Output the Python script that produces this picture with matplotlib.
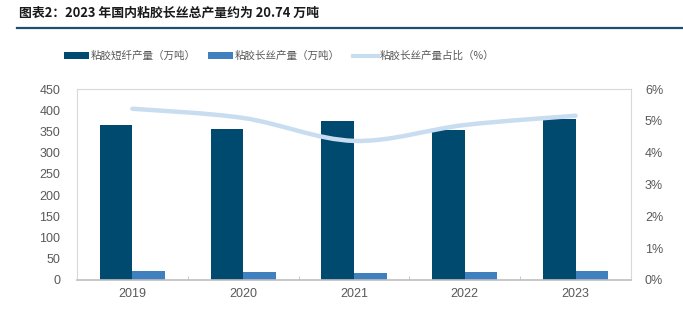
import matplotlib
matplotlib.use("Agg")
import matplotlib.pyplot as plt
from matplotlib.path import Path
from matplotlib.patches import PathPatch, Patch
from matplotlib.lines import Line2D
from matplotlib.ticker import FuncFormatter, MultipleLocator
import numpy as np

plt.rcParams['font.family'] = ['Noto Sans CJK SC', 'DejaVu Sans']

# 产量数据（万吨）与长丝占比（%）
years = ['2019', '2020', '2021', '2022', '2023']
staple_output = [365, 355, 374, 353, 380]
filament_output = [21.0, 19.0, 16.5, 19.0, 20.74]
filament_share = [5.38, 5.09, 4.37, 4.87, 5.16]

DARK = '#004a70'
MID = '#4080bf'
LIGHT = '#c9ddf1'
GREY = '#595959'
NUM_FONT = ['Liberation Sans', 'DejaVu Sans']

fig = plt.figure(figsize=(6.83, 3.26), dpi=100)
W, H = 683, 326
ax = fig.add_axes([77 / W, (H - 280) / H, 554 / W, 191 / H])

x = np.arange(len(years))
bw = 0.295
ax.bar(x - bw / 2, staple_output, bw, color=DARK, zorder=2)
ax.bar(x + bw / 2, filament_output, bw, color=MID, zorder=2)

ax.set_xlim(-0.5, len(years) - 0.5)
ax.set_ylim(0, 450)
ax.yaxis.set_major_locator(MultipleLocator(50))
ax.set_xticks(x)
ax.set_xticklabels(years)
ax.set_xticks(np.arange(0.5, len(years) - 0.5, 1), minor=True)
ax.tick_params(axis='x', which='major', length=0, pad=6, labelsize=9, colors=GREY)
ax.tick_params(axis='x', which='minor', length=3, direction='in', color='#bfbfbf')
ax.tick_params(axis='y', length=0, pad=12, labelsize=9, colors=GREY)
for lab in ax.get_xticklabels() + ax.get_yticklabels():
    lab.set_family(NUM_FONT)

for side in ('top', 'left', 'right'):
    ax.spines[side].set_color('#d9d9d9')
    ax.spines[side].set_linewidth(0.8)
ax.spines['bottom'].set_color('#bfbfbf')
ax.spines['bottom'].set_linewidth(1.2)

# 占比曲线，用三次贝塞尔平滑连接各年份数据点
ax2 = ax.twinx()
ax2.set_ylim(0, 6)
ax2.yaxis.set_major_locator(MultipleLocator(1))
ax2.yaxis.set_major_formatter(FuncFormatter(lambda v, p: f'{v:.0f}%'))
ax2.tick_params(axis='y', length=0, pad=10, labelsize=9, colors=GREY)
for lab in ax2.get_yticklabels():
    lab.set_family(NUM_FONT)
for s in ax2.spines.values():
    s.set_visible(False)

pts = np.column_stack([x, filament_share]).astype(float)
verts = [pts[0]]
codes = [Path.MOVETO]
n = len(pts)
for i in range(n - 1):
    p_prev = pts[max(i - 1, 0)]
    p_next2 = pts[min(i + 2, n - 1)]
    c1 = pts[i] + (pts[i + 1] - p_prev) / 6
    c2 = pts[i + 1] - (p_next2 - pts[i]) / 6
    verts += [c1, c2, pts[i + 1]]
    codes += [Path.CURVE4] * 3
ax2.add_patch(PathPatch(Path(verts, codes), facecolor='none', edgecolor=LIGHT,
                        linewidth=3.2, capstyle='round', zorder=3))

# 标题与分隔线
fig.text(19 / W, 1 - 13 / H, '图表2：2023 年国内粘胶长丝总产量约为 20.74 万吨',
         fontsize=9.3, fontweight='bold', color='#1a1a1a', va='center', ha='left')
fig.add_artist(Line2D([17 / W, 1], [1 - 28 / H, 1 - 28 / H], color='#1f4e6e', linewidth=1.6))

# 图例：三项分别定位
legend_items = [
    (Patch(facecolor=DARK), '粘胶短纤产量（万吨）', 64),
    (Patch(facecolor=MID), '粘胶长丝产量（万吨）', 208),
    (Line2D([], [], color=LIGHT, linewidth=3.0), '粘胶长丝产量占比（%）', 353),
]
for handle, label, left in legend_items:
    leg = fig.legend([handle], [label], loc='center left',
                     bbox_to_anchor=(left / W, 1 - 56 / H), frameon=False,
                     fontsize=7.6, handlelength=2.4, handleheight=0.65,
                     handletextpad=0.15, borderaxespad=0, borderpad=0)
    for t in leg.get_texts():
        t.set_color(GREY)

fig.savefig('out.png', dpi=100)
